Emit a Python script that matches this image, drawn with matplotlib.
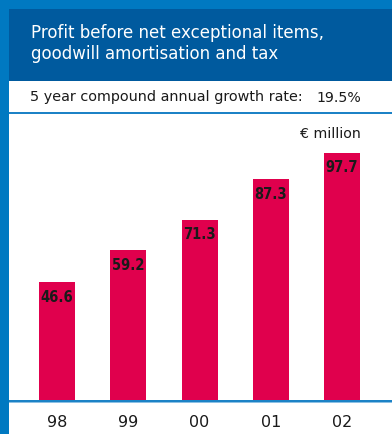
import matplotlib.pyplot as plt
from matplotlib.patches import Rectangle

years = ['98', '99', '00', '01', '02']
profit = [46.6, 59.2, 71.3, 87.3, 97.7]
title_lines = ['Profit before net exceptional items,', 'goodwill amortisation and tax']
cagr_label = '5 year compound annual growth rate:'
cagr_value = '19.5%'
unit_label = '\u20ac million'

W, H = 392, 434
LIGHT_BLUE = '#0079C1'
DARK_BLUE = '#005A9E'
BAR_RED = '#E0004D'
INK = '#1a1a1a'

plt.rcParams['font.family'] = ['DejaVu Sans']

fig = plt.figure(figsize=(W / 100, H / 100), dpi=100)
fig.patch.set_facecolor('white')


def box(x, y, w, h, color):
    # pixel box measured from the top-left corner
    fig.patches.append(Rectangle((x / W, 1 - (y + h) / H), w / W, h / H,
                                 transform=fig.transFigure, facecolor=color,
                                 edgecolor='none', zorder=0))


def ftext(x, y, s, **kw):
    fig.text(x / W, 1 - y / H, s, **kw)


# frame: top band, left strip, header block, separator lines
box(0, 0, W, 9, LIGHT_BLUE)
box(0, 0, 8.5, H, LIGHT_BLUE)
box(8.5, 9, W - 8.5, 72, DARK_BLUE)
box(8.5, 111.5, W - 8.5, 2.5, '#1C82C6')
box(8.5, 400, W - 8.5, 2, '#1C82C6')
box(8.5, 402, W - 8.5, 1, '#8CC0E4')

ftext(31, 38, title_lines[0], color='white', fontsize=12, va='baseline')
ftext(31, 59, title_lines[1], color='white', fontsize=12, va='baseline')
ftext(30, 101.5, cagr_label, color=INK, fontsize=10.4, va='baseline')
ftext(361, 101.5, cagr_value, color=INK, fontsize=10.2, va='baseline', ha='right')
ftext(361, 138, unit_label, color=INK, fontsize=10.2, va='baseline', ha='right')

# bar chart area
ax = fig.add_axes([8.5 / W, (H - 400) / H, (W - 8.5) / W, (400 - 114) / H])
ax.set_facecolor('none')
x = list(range(len(years)))
ax.bar(x, profit, width=0.505, color=BAR_RED)
ax.set_xlim(-0.68, 4.70)
ax.set_ylim(0, (400 - 114) / 2.53)
for s in ax.spines.values():
    s.set_visible(False)
ax.set_yticks([])
ax.set_xticks(x)
ax.set_xticklabels(years, fontsize=11.5, color=INK)
ax.tick_params(axis='x', length=0, pad=11)

for xi, v in zip(x, profit):
    ax.annotate(f'{v:.1f}', (xi, v), xytext=(0, -15), textcoords='offset pixels',
                ha='center', va='center', fontsize=10.5, fontweight='bold',
                fontstretch='condensed', color=INK)

fig.savefig('out.png', dpi=100)
